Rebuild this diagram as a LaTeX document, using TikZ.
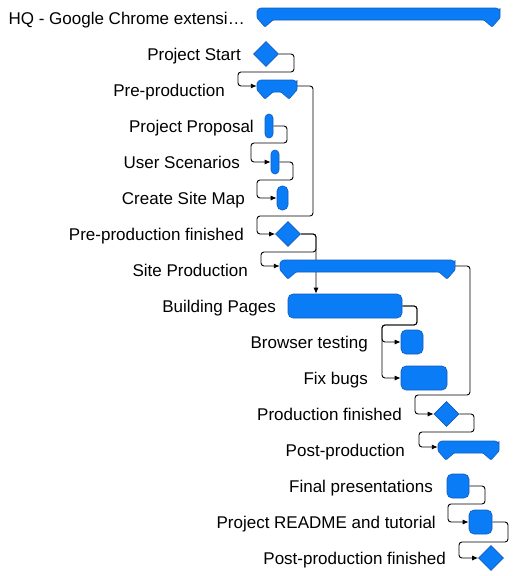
\documentclass[tikz,border=0pt]{standalone}
\usepackage{fontspec}
\setmainfont{Liberation Sans}
\usetikzlibrary{shapes.geometric,arrows.meta}
\definecolor{barblue}{RGB}{10,124,245}
\definecolor{baredge}{RGB}{20,90,190}
\pgfdeclarelayer{bg}
\pgfsetlayers{bg,main}
\newcommand{\summarybar}[4]{% name, x1, x2, ytop
  \filldraw[fill=barblue, draw=baredge, line width=0.6pt, rounded corners=1pt]
    (#2,#4+4) [rounded corners=4pt] -- (#2,#4) -- (#3,#4) -- (#3,#4+4) [rounded corners=1pt] -- (#3,#4+10) -- (#3-8,#4+19) -- (#3-16,#4+12)
    -- (#2+16,#4+12) -- (#2+8,#4+19) -- (#2,#4+10) -- cycle;
  \node[anchorbox, minimum width={#3-#2}] (#1) at ({(#2+#3)/2},#4+6) {};
}
\begin{document}
\begin{tikzpicture}[x=1pt,y=-1pt,
  conn/.style={line width=0.9pt, rounded corners=3pt},
  arr/.style={-{Latex[length=6pt,width=5pt]}},
  task/.style={rectangle, fill=barblue, draw=baredge, line width=0.6pt, rounded corners=5pt, minimum height=24pt, inner sep=0pt},
  mile/.style={diamond, fill=barblue, draw=baredge, line width=0.6pt, minimum width=25pt, minimum height=25pt, inner sep=0pt},
  lbl/.style={anchor=base east, inner sep=0pt, font=\fontsize{17}{20}\selectfont, text=black},
  anchorbox/.style={rectangle, inner sep=0pt, minimum height=12pt}
]
\useasboundingbox (0,0) rectangle (520,576);

% labels
\node[lbl] (l0) at (245,24) {HQ - Google Chrome extensi…};
\node[lbl] (l1) at (241,60.5) {Project Start};
\node[lbl] (l2) at (225,96.5) {Pre-production};
\node[lbl] (l3) at (254,132.5) {Project Proposal};
\node[lbl] (l4) at (240,168.5) {User Scenarios};
\node[lbl] (l5) at (245,204.5) {Create Site Map};
\node[lbl] (l6) at (244,240.5) {Pre-production finished};
\node[lbl] (l7) at (248,276.5) {Site Production};
\node[lbl] (l8) at (276,312.5) {Building Pages};
\node[lbl] (l9) at (368,348.5) {Browser testing};
\node[lbl] (l10) at (368,384.5) {Fix bugs};
\node[lbl] (l11) at (402,420.5) {Production finished};
\node[lbl] (l12) at (405,456.5) {Post-production};
\node[lbl] (l13) at (433,492.5) {Final presentations};
\node[lbl] (l14) at (436,528.5) {Project README and tutorial};
\node[lbl] (l15) at (446,564.5) {Post-production finished};

% summary bars
\summarybar{hq}{257}{500}{8}
\summarybar{pp}{257}{297}{80}
\summarybar{sp}{280}{455}{260}
\summarybar{pop}{438}{499}{441}

% milestones
\node[mile] (ps) at (266,54) {};
\node[mile] (ppf) at (288,234) {};
\node[mile] (prf) at (446.5,414) {};
\node[mile] (popf) at (491,558) {};

% tasks
\node[task, rounded corners=4pt, minimum width=8pt] (prop) at (269,126) {};
\node[task, rounded corners=4pt, minimum width=8pt] (us) at (275,162) {};
\node[task, rounded corners=5pt, minimum width=11pt] (csm) at (282.5,198) {};
\node[task, minimum width=114pt] (bp) at (345,306) {};
\node[task, minimum width=22pt] (bt) at (412,342) {};
\node[task, minimum width=46pt] (fb) at (424,378) {};
\node[task, minimum width=22pt] (fp) at (458,486) {};
\node[task, minimum width=23pt] (rd) at (480.5,522) {};

% connectors
\begin{pgfonlayer}{bg}
\draw[conn,arr] (ps.east) -- (294,54) -- (294,72) -- (238,72) |- (pp.west);
\draw[conn,arr] (pp.east) -- (313,86) -- (313,216) -- (257,216) |- (ppf.west);
\draw[conn,arr] (prop.east) -- (287,126) -- (287,143) -- (251,143) |- (us.west);
\draw[conn,arr] (us.east) -- (293,162) -- (293,180) -- (257,180) |- (csm.west);
\draw[conn,arr] (ppf.east) -- (316,234) -- (316,252) -- (261,252) |- (sp.west);
\draw[conn,arr] (ppf.east) -- (316,234) -- (bp.north -| 316,234);
\draw[conn,arr] (bp.east) -- (417,306) -- (417,325) -- (382,325) |- (bt.west);
\draw[conn,arr] (bp.east) -- (417,306) -- (417,325) -- (382,325) |- (fb.west);
\draw[conn,arr] (sp.east) -- (470,266) -- (470,395) -- (415,395) |- (prf.west);
\draw[conn,arr] (prf.east) -- (474,414) -- (474,432) -- (419,432) |- (pop.west);
\draw[conn,arr] (fp.east) -- (485,486) -- (485,504) -- (448,504) |- (rd.west);
\draw[conn,arr] (rd.east) -- (508,522) -- (508,542) -- (459,542) |- (popf.west);
\end{pgfonlayer}
\end{tikzpicture}
\end{document}
